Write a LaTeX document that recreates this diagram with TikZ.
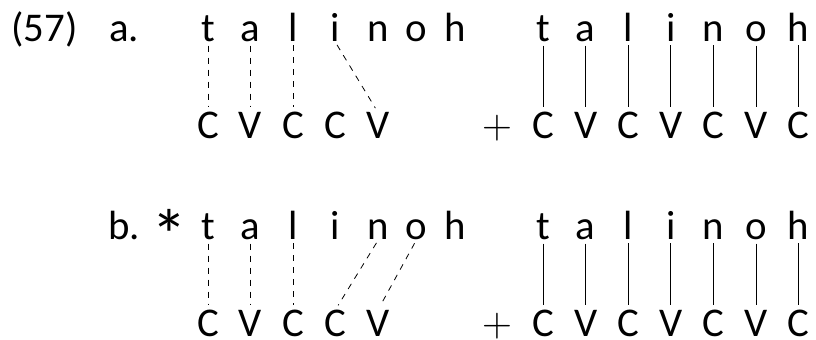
\documentclass[tikz,border=0pt]{standalone}
\usepackage{amsmath}
\usepackage{fontspec}
\setmainfont{Carlito}
\usepackage{tikz}
\newcommand{\tierfont}{\fontsize{20.4}{24}\selectfont}
\tikzset{
  seg/.style={anchor=base, inner sep=0pt, font=\tierfont},
  lbl/.style={anchor=base west, inner sep=0pt, font=\tierfont},
  dlink/.style={thin, dashed, shorten <=1.5pt, shorten >=2.5pt},
  slink/.style={thin, shorten <=1.5pt, shorten >=2.5pt}
}

\begin{document}
\begin{tikzpicture}[x=0.5pt,y=-0.5pt]
\useasboundingbox (0,0) rectangle (816,340);
% labels
\node[lbl] (num) at (11,42) {(57)};
\node[lbl] (exa) at (109,42) {a.};
\node[lbl] (exb) at (108,240) {b.};
\node[inner sep=0pt, font=\fontsize{36}{40}\selectfont] (star) at (169,235) {*};
% left halves
\foreach \l/\x [count=\i] in {t/208,a/250.5,l/293,i/335.5,n/378,o/416,h/455} {
  \node[seg] (segA\i) at (\x,42) {\l};
  \node[seg] (segB\i) at (\x,240) {\l};
}
\foreach \l/\x [count=\i] in {C/208,V/250.5,C/293,C/335.5,V/378} {
  \node[seg] (cvA\i) at (\x,139) {\l};
  \node[seg] (cvB\i) at (\x,336.5) {\l};
}
% right halves
\foreach \l/\k [count=\i] in {t/C,a/V,l/C,i/V,n/C,o/V,h/C} {
  \node[seg] (segAr\i) at (543+42.6*\i-42.6,42) {\l};
  \node[seg] (cvAr\i) at (543+42.6*\i-42.6,139) {\k};
  \node[seg] (segBr\i) at (543+42.6*\i-42.6,240) {\l};
  \node[seg] (cvBr\i) at (543+42.6*\i-42.6,336.5) {\k};
  \draw[slink] (segAr\i.south) -- (cvAr\i.north);
  \draw[slink] (segBr\i.south) -- (cvBr\i.north);
}
\node[seg] (plusA) at (497,139) {$+$};
\node[seg] (plusB) at (497,336.5) {$+$};
% associations
\foreach \i in {1,2,3} {
  \draw[dlink] (segA\i.south) -- (cvA\i.north);
  \draw[dlink] (segB\i.south) -- (cvB\i.north);
}
\draw[dlink] (segA4.south) -- (cvA5.north);
\draw[dlink] (segB5.south) -- (cvB4.north);
\draw[dlink] (segB6.south) -- (cvB5.north);
\end{tikzpicture}
\end{document}
